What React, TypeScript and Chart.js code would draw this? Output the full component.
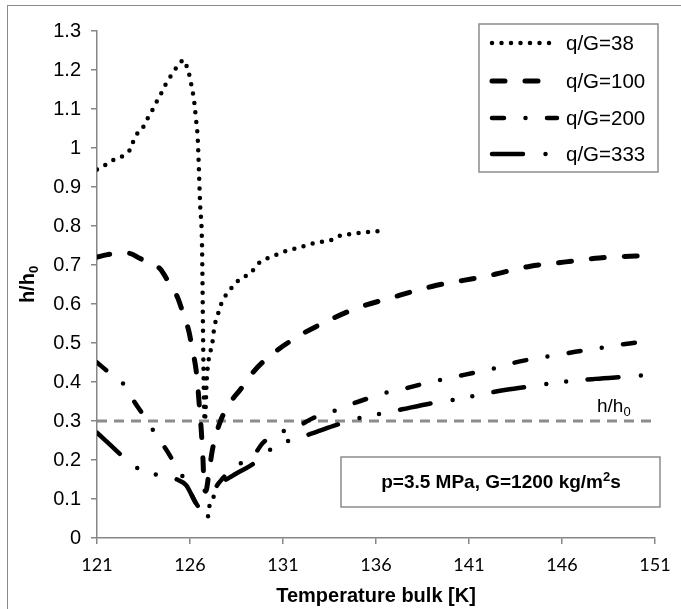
import React, { useEffect, useRef } from "react";
import { Chart, registerables } from "chart.js";

Chart.register(...registerables);

// ---- data ----
const seriesLabels = ["q/G=38", "q/G=100", "q/G=200", "q/G=333"];

const t38 = [121, 121.2, 121.55, 121.9, 122.3, 122.6, 122.85, 123.0, 123.4, 123.65, 123.9, 124.2, 124.45, 124.7, 125.0, 125.3, 125.68, 125.85, 126.0, 126.1, 126.2, 126.27, 126.32, 126.38, 126.42, 126.54, 126.65, 126.7, 126.75, 126.8, 126.9, 127.0, 127.13, 127.24, 127.3, 127.45, 127.6, 127.8, 128.15, 128.5, 128.9, 129.3, 129.7, 130.2, 130.73, 131.3, 131.8, 132.5, 133.04, 133.6, 134.0, 134.6, 135.1, 135.6, 136.2];
const v38 = [0.945, 0.948, 0.96, 0.97, 0.977, 0.99, 1.0, 1.026, 1.046, 1.07, 1.09, 1.118, 1.14, 1.164, 1.187, 1.208, 1.226, 1.205, 1.18, 1.154, 1.128, 1.1, 1.074, 1.049, 1.02, 0.86, 0.74, 0.53, 0.35, 0.3, 0.405, 0.456, 0.485, 0.513, 0.54, 0.564, 0.59, 0.613, 0.636, 0.656, 0.669, 0.682, 0.705, 0.718, 0.728, 0.738, 0.744, 0.754, 0.759, 0.764, 0.774, 0.779, 0.782, 0.785, 0.787];

const t100 = [121, 121.5, 122.2, 122.7, 123.3, 124.0, 124.4, 124.8, 125.35, 125.6, 125.95, 126.1, 126.3, 126.4, 126.5, 126.6, 126.7, 126.75, 126.85, 127.0, 127.2, 127.6, 128.2, 128.7, 129.3, 130.0, 131.5, 133.15, 135.0, 136.75, 139.0, 142.0, 144.3, 146.2, 148.0, 150.0, 151.0];
const v100 = [0.72, 0.726, 0.73, 0.73, 0.717, 0.7, 0.69, 0.66, 0.615, 0.58, 0.528, 0.49, 0.44, 0.4, 0.34, 0.28, 0.2, 0.14, 0.12, 0.16, 0.225, 0.295, 0.35, 0.38, 0.42, 0.455, 0.508, 0.551, 0.59, 0.615, 0.645, 0.672, 0.697, 0.708, 0.718, 0.723, 0.724];

const t200 = [121, 121.75, 122.6, 123.0, 123.6, 124.1, 124.7, 125.25, 125.7, 126.2, 126.6, 126.85, 127.1, 127.4, 127.8, 128.3, 129.4, 129.9, 130.8, 131.75, 132.6, 133.6, 134.5, 135.5, 136.5, 137.45, 138.5, 139.4, 140.4, 141.4, 142.45, 143.4, 144.4, 145.4, 146.3, 147.3, 148.4, 149.3, 150.35, 151.0];
const v200 = [0.45, 0.42, 0.385, 0.35, 0.308, 0.27, 0.228, 0.185, 0.15, 0.1, 0.07, 0.06, 0.09, 0.13, 0.155, 0.18, 0.21, 0.243, 0.27, 0.285, 0.307, 0.323, 0.34, 0.357, 0.372, 0.382, 0.395, 0.405, 0.415, 0.425, 0.436, 0.449, 0.459, 0.467, 0.474, 0.482, 0.49, 0.497, 0.503, 0.505];

const t333 = [121, 121.8, 122.6, 123.5, 124.55, 125.3, 125.8, 126.3, 126.7, 126.9, 127.1, 127.3, 127.6, 128.3, 129.4, 130.3, 131.3, 132.3, 134.2, 135.3, 136.4, 137.4, 139.4, 140.4, 141.5, 143.0, 144.5, 146.0, 147.8, 149.8, 151.0];
const v333 = [0.27, 0.235, 0.2, 0.17, 0.16, 0.15, 0.135, 0.09, 0.06, 0.05, 0.08, 0.11, 0.135, 0.16, 0.19, 0.226, 0.249, 0.264, 0.295, 0.31, 0.32, 0.33, 0.349, 0.356, 0.367, 0.38, 0.39, 0.4, 0.408, 0.415, 0.42];

const refT = [121, 151];
const refV = [0.3, 0.3];

const xTicks = [121, 126, 131, 136, 141, 146, 151];

const toPoints = (xs: number[], ys: number[]) => xs.map((x, i) => ({ x, y: ys[i] }));

const ARIAL = "'Liberation Sans', Arial, sans-serif";
const CALIBRI = "Lato, 'Open Sans', sans-serif";

const dashes: number[][] = [
  [0, 9.5],
  [13, 20],
  [12, 21.5, 0, 21.5],
  [31, 22.5, 0, 20, 0, 21.5],
];
const widths = [4.5, 5, 4.5, 4.5];

const overlayPlugin = {
  id: "overlay",
  afterDatasetsDraw(chart: any) {
    const ctx = chart.ctx as CanvasRenderingContext2D;
    const area = chart.chartArea;
    ctx.save();

    // legend box
    ctx.fillStyle = "#ffffff";
    ctx.strokeStyle = "#8c8c8c";
    ctx.lineWidth = 1.5;
    ctx.fillRect(479, 24, 179, 148);
    ctx.strokeRect(479, 24, 179, 148);
    const rows = [43, 81, 118, 154];
    for (let i = 0; i < 4; i++) {
      const y = rows[i];
      ctx.save();
      ctx.strokeStyle = "#000";
      ctx.lineWidth = widths[i];
      ctx.lineCap = "round";
      ctx.setLineDash(dashes[i]);
      ctx.beginPath();
      ctx.moveTo(492, y);
      ctx.lineTo(557, y);
      ctx.stroke();
      ctx.restore();
      ctx.fillStyle = "#000";
      ctx.font = `20.5px ${ARIAL}`;
      ctx.textAlign = "left";
      ctx.textBaseline = "middle";
      ctx.fillText(seriesLabels[i], 566, y + 1);
    }

    // annotation box
    ctx.fillStyle = "#ffffff";
    ctx.strokeStyle = "#8c8c8c";
    ctx.lineWidth = 1.5;
    ctx.fillRect(341, 457, 319, 50);
    ctx.strokeRect(341, 457, 319, 50);
    ctx.fillStyle = "#000";
    ctx.textBaseline = "alphabetic";
    const t1 = "p=3.5 MPa, G=1200 kg/m";
    const t2 = "2";
    const t3 = "s";
    ctx.font = `bold 19px ${ARIAL}`;
    const w1 = ctx.measureText(t1).width;
    const w3 = ctx.measureText(t3).width;
    ctx.font = `bold 13px ${ARIAL}`;
    const w2 = ctx.measureText(t2).width;
    const total = w1 + w2 + w3;
    const sx = 501 - total / 2;
    const base = 488;
    ctx.textAlign = "left";
    ctx.font = `bold 19px ${ARIAL}`;
    ctx.fillText(t1, sx, base);
    ctx.font = `bold 13px ${ARIAL}`;
    ctx.fillText(t2, sx + w1, base - 7);
    ctx.font = `bold 19px ${ARIAL}`;
    ctx.fillText(t3, sx + w1 + w2, base);

    // h/h0 label near reference line
    ctx.font = `19px ${ARIAL}`;
    ctx.fillText("h/h", 597, 412);
    const wh = ctx.measureText("h/h").width;
    ctx.font = `13px ${ARIAL}`;
    ctx.fillText("0", 597 + wh, 416);

    // x axis title
    ctx.font = `bold 20px ${ARIAL}`;
    ctx.textAlign = "center";
    ctx.fillText("Temperature bulk [K]", (area.left + area.right) / 2, 602);

    // y axis title (rotated)
    ctx.save();
    ctx.translate(34, (area.top + area.bottom) / 2);
    ctx.rotate(-Math.PI / 2);
    ctx.font = `bold 20px ${ARIAL}`;
    const wy = ctx.measureText("h/h").width;
    ctx.font = `bold 13px ${ARIAL}`;
    const wy0 = ctx.measureText("0").width;
    const st = -(wy + wy0) / 2;
    ctx.textAlign = "left";
    ctx.font = `bold 20px ${ARIAL}`;
    ctx.fillText("h/h", st, 0);
    ctx.font = `bold 13px ${ARIAL}`;
    ctx.fillText("0", st + wy, 4);
    ctx.restore();

    ctx.restore();
  },
};

export default function App() {
  const ref = useRef<HTMLCanvasElement>(null);
  useEffect(() => {
    if (!ref.current) return;
    const mk = (i: number, xs: number[], ys: number[]) => ({
      label: seriesLabels[i],
      data: toPoints(xs, ys),
      borderColor: "#000",
      backgroundColor: "#000",
      borderWidth: widths[i],
      borderDash: dashes[i],
      borderCapStyle: "round" as const,
      borderJoinStyle: "round" as const,
      pointRadius: 0,
      fill: false,
      cubicInterpolationMode: "monotone" as const,
    });
    const chart = new Chart(ref.current, {
      type: "line",
      data: {
        datasets: [
          mk(0, t38, v38),
          mk(1, t100, v100),
          mk(2, t200, v200),
          mk(3, t333, v333),
          {
            label: "ref",
            data: toPoints(refT, refV),
            borderColor: "#8c8c8c",
            borderWidth: 3,
            borderDash: [10, 7],
            pointRadius: 0,
            fill: false,
          } as any,
        ],
      },
      options: {
        animation: false,
        responsive: false,
        maintainAspectRatio: false,
        layout: { padding: { top: 31, right: 26, left: 0, bottom: 0 } },
        plugins: { legend: { display: false }, tooltip: { enabled: false } },
        scales: {
          x: {
            type: "linear",
            min: 121,
            max: 151,
            afterBuildTicks: (s: any) => {
              s.ticks = xTicks.map((v) => ({ value: v }));
            },
            afterFit: (s: any) => {
              s.height = 71;
            },
            ticks: {
              color: "#000",
              font: { family: CALIBRI, size: 18 },
              padding: 10,
              maxRotation: 0,
              autoSkip: false,
            },
            grid: {
              drawOnChartArea: false,
              drawTicks: true,
              tickLength: 6,
              color: "#868686",
              lineWidth: 1.5,
            },
            border: { color: "#868686", width: 1.5 },
          },
          y: {
            type: "linear",
            min: 0,
            max: 1.3,
            ticks: {
              stepSize: 0.1,
              color: "#000",
              font: { family: ARIAL, size: 20 },
              padding: 10,
              callback: (v: any) => String(Math.round(Number(v) * 10) / 10),
            },
            afterFit: (s: any) => {
              s.width = 97;
            },
            grid: {
              drawOnChartArea: false,
              drawTicks: true,
              tickLength: 6,
              color: "#868686",
              lineWidth: 1.5,
            },
            border: { color: "#868686", width: 1.5 },
          },
        },
      },
      plugins: [overlayPlugin],
    });
    return () => chart.destroy();
  }, []);

  return (
    <div
      style={{
        position: "fixed",
        left: 0,
        top: 0,
        width: 681,
        height: 609,
        overflow: "hidden",
        background: "#fff",
      }}
    >
      <div
        style={{
          position: "absolute",
          left: 7,
          top: 5,
          width: 700,
          height: 700,
          border: "1.5px solid #8a8a8a",
        }}
      />
      <canvas
        ref={ref}
        width={681}
        height={609}
        style={{ position: "absolute", left: 0, top: 0, width: 681, height: 609 }}
      />
    </div>
  );
}
